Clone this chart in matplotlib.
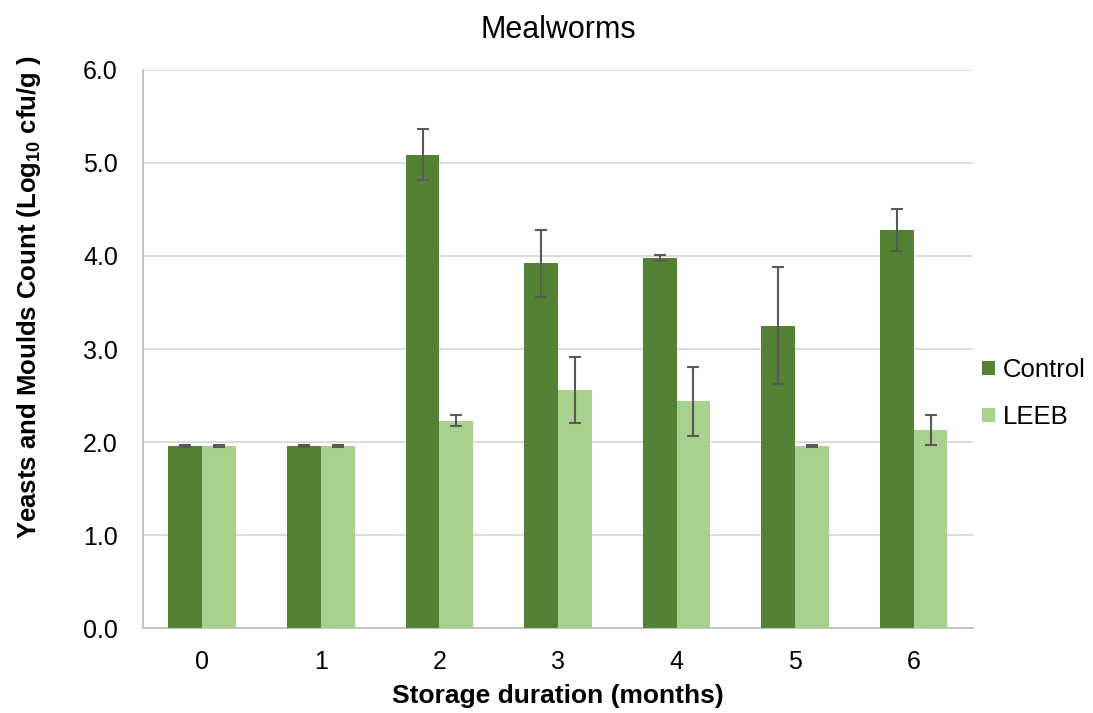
import matplotlib.pyplot as plt
import numpy as np

# data
months = ['0', '1', '2', '3', '4', '5', '6']
control = [1.96, 1.96, 5.09, 3.92, 3.98, 3.25, 4.28]
control_err = [0.01, 0.01, 0.27, 0.36, 0.03, 0.63, 0.23]
leeb = [1.96, 1.96, 2.23, 2.56, 2.44, 1.96, 2.13]
leeb_err = [0.01, 0.01, 0.06, 0.35, 0.37, 0.01, 0.16]

plt.rcParams['font.family'] = ['Liberation Sans', 'DejaVu Sans']
plt.rcParams['mathtext.fontset'] = 'custom'
plt.rcParams['mathtext.rm'] = 'Liberation Sans:bold'

fig = plt.figure(figsize=(10.93, 7.13), dpi=100)
ax = fig.add_axes([0.1308, 0.119, 0.7594, 0.783])

x = np.arange(len(months))
w = 0.285
err_kw = dict(ecolor='#595959', elinewidth=1.5, capsize=4.5, capthick=1.5)
ax.bar(x - w / 2, control, w, yerr=control_err, color='#548235', label='Control',
       error_kw=err_kw, zorder=3)
ax.bar(x + w / 2, leeb, w, yerr=leeb_err, color='#A9D18E', label='LEEB',
       error_kw=err_kw, zorder=3)

ax.set_xlim(-0.5, 6.5)
ax.set_ylim(0, 6)
ax.set_yticks(np.arange(0, 6.1, 1))
ax.set_yticklabels([f'{v:.1f}' for v in np.arange(0, 6.1, 1)], fontsize=18)
ax.set_xticks(x)
ax.set_xticklabels(months, fontsize=18)
ax.tick_params(axis='y', length=0, pad=18)
ax.tick_params(axis='x', length=0, pad=16)
ax.grid(axis='y', color='#D9D9D9', linewidth=1.3, zorder=0)
for s in ['top', 'right']:
    ax.spines[s].set_visible(False)
for s in ['left', 'bottom']:
    ax.spines[s].set_color('#BFBFBF')
    ax.spines[s].set_linewidth(1.3)

ax.set_title('Mealworms', fontsize=22, pad=23)
ax.set_xlabel('Storage duration (months)', fontsize=19, fontweight='bold', labelpad=7)
ax.set_ylabel('Yeasts and Moulds Count (Log$_{10}$ cfu/g )', fontsize=18.5,
              fontweight='bold')
ax.yaxis.set_label_coords(-0.12, 0.593)

ax.legend(loc='center left', bbox_to_anchor=(1.011, 0.42), frameon=False,
          fontsize=18.5, handlelength=0.5, handleheight=0.5, labelspacing=0.9,
          handletextpad=0.3, borderpad=0, borderaxespad=0)

plt.savefig('out.png', dpi=100)
